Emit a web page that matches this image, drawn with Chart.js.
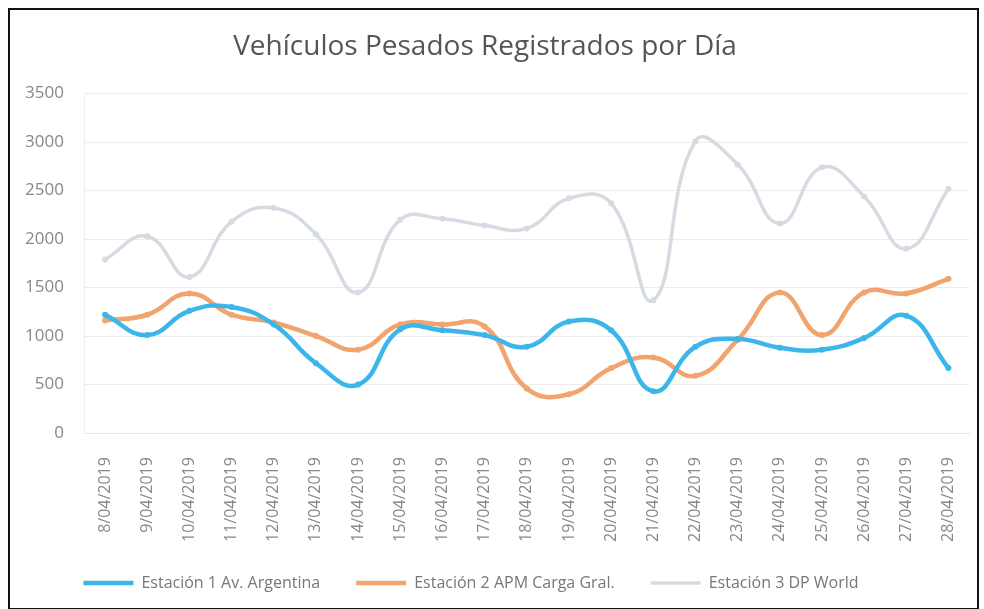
<!DOCTYPE html>
<html>
<head>
<meta charset="utf-8">
<script src="https://cdn.jsdelivr.net/npm/chart.js@4"></script>
<style>
  html, body { margin: 0; padding: 0; background: #fff; }
  #wrap { position: relative; width: 984px; height: 609px; overflow: hidden; }
  #frame { position: absolute; left: 8px; top: 8px; width: 967px; height: 598px; border: 2px solid #111; }
  canvas { position: absolute; left: 0; top: 0; }
</style>
</head>
<body>
<div id="wrap">
  <div id="frame"></div>
  <canvas id="chart" width="984" height="620"></canvas>
</div>
<script>
const fechas = ['8/04/2019','9/04/2019','10/04/2019','11/04/2019','12/04/2019','13/04/2019','14/04/2019',
  '15/04/2019','16/04/2019','17/04/2019','18/04/2019','19/04/2019','20/04/2019','21/04/2019',
  '22/04/2019','23/04/2019','24/04/2019','25/04/2019','26/04/2019','27/04/2019','28/04/2019'];
const estacion1 = [1220, 1010, 1260, 1300, 1120, 720, 500, 1070, 1060, 1010, 890, 1150, 1060, 430, 890, 970, 880, 860, 980, 1210, 670];
const estacion2 = [1160, 1220, 1440, 1220, 1140, 1000, 860, 1120, 1120, 1100, 460, 400, 670, 780, 590, 960, 1450, 1010, 1450, 1440, 1590];
const estacion3 = [1790, 2030, 1610, 2180, 2320, 2050, 1450, 2200, 2210, 2140, 2110, 2420, 2370, 1370, 3010, 2770, 2160, 2740, 2440, 1900, 2520];

const FONT = "'Open Sans', sans-serif";

// nudge the legend: a bit left and up, like the original
const legendShift = {
  id: 'legendShift',
  afterLayout(chart) {
    if (!chart.legend) return;
    chart.legend.right -= 28;
    chart.legend.top -= 19;
  }
};

function serie(label, data, color, width) {
  return { label, data, borderColor: color, backgroundColor: color, borderWidth: width,
    pointRadius: 3, pointBorderWidth: 0, pointBackgroundColor: color, tension: 0.45, fill: false };
}

new Chart(document.getElementById('chart'), {
  type: 'line',
  data: {
    labels: fechas,
    datasets: [
      serie('Estación 1 Av. Argentina', estacion1, '#3cb6ea', 4.5),
      serie('Estación 2 APM Carga Gral.', estacion2, '#f2a46f', 4.5),
      serie('Estación 3 DP World', estacion3, '#d5dbe2', 3.5)
    ]
  },
  options: {
    responsive: false,
    animation: false,
    layout: { padding: { top: 0, right: 14, bottom: 0, left: 0 } },
    plugins: {
      title: { display: true, text: 'Vehículos Pesados Registrados por Día', color: '#555',
        font: { family: FONT, size: 28, weight: 'normal' }, padding: { top: 30, bottom: 30 } },
      legend: {
        position: 'bottom',
        labels: {
          color: '#777', font: { family: FONT, size: 16 }, padding: 36,
          generateLabels: chart => chart.data.datasets.map((d, i) => ({
            text: d.label, fillStyle: d.borderColor, strokeStyle: d.borderColor,
            lineWidth: d.borderWidth, pointStyle: 'line', datasetIndex: i, fontColor: '#777'
          })),
          usePointStyle: true, pointStyleWidth: 50, boxHeight: 16
        }
      },
      tooltip: { enabled: false }
    },
    scales: {
      x: {
        offset: true,
        grid: { display: false },
        border: { color: '#e6e6e6' },
        ticks: { color: '#888', font: { family: FONT, size: 16 }, minRotation: 90, maxRotation: 90, padding: 16, autoSkip: false }
      },
      y: {
        min: 0, max: 3500,
        afterFit: s => { s.width = 84; },
        grid: { color: '#ececec', drawTicks: false },
        border: { display: true, color: '#eeeeee' },
        ticks: { stepSize: 500, color: '#888', font: { family: FONT, size: 17 }, padding: 20, callback: v => String(v) }
      }
    }
  },
  plugins: [legendShift]
});
</script>
</body>
</html>
